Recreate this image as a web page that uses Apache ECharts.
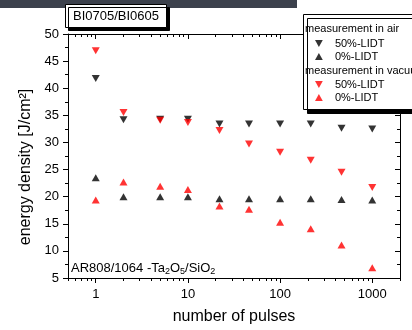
<!DOCTYPE html>
<html>
<head>
<meta charset="utf-8">
<script src="https://cdn.jsdelivr.net/npm/echarts@6/dist/echarts.min.js"></script>
<style>html,body{margin:0;padding:0;background:#fff}#c{width:412px;height:330px}</style>
</head>
<body>
<div id="c"></div>
<script>
// ---- data ----
var pulses = [1, 2, 5, 10, 22, 46, 100, 215, 464, 1000];
var airHigh = [41.8, 34.2, 34.3, 34.3, 33.4, 33.4, 33.4, 33.4, 32.6, 32.5];
var airLow = [23.5, 20.0, 20.0, 20.0, 19.6, 19.6, 19.6, 19.6, 19.5, 19.4];
var vacHigh = [46.9, 35.5, 34.1, 33.7, 32.2, 29.7, 28.2, 26.7, 24.5, 21.7];
var vacLow = [19.4, 22.7, 21.9, 21.3, 18.3, 17.7, 15.3, 14.1, 11.1, 6.9];
var xMajorTicks = [1, 10, 100, 1000];
var xMinorTicks = [0.5, 0.6, 0.7, 0.8, 0.9, 2, 3, 4, 5, 6, 7, 8, 9, 20, 30, 40, 50, 60, 70, 80, 90,
  200, 300, 400, 500, 600, 700, 800, 900, 2000];
var seriesNames = { air50: '50%-LIDT', air0: '0%-LIDT', vac50: '50%-LIDT', vac0: '0%-LIDT' };

function pairs(ys) { return pulses.map(function (p, i) { return [p, ys[i]]; }); }

var FONT = "'Liberation Sans', Arial, sans-serif";
var DOWN = 'path://M0,0L10,0L5,9Z';
var UP = 'path://M5,0L10,9L0,9Z';
var chart = echarts.init(document.getElementById('c'), null, { renderer: 'canvas' });

function xAx(pos, major, showLine, inside) {
  return {
    type: 'log', logBase: 10, min: 0.5, max: 2000, position: pos,
    axisLine: { show: showLine, lineStyle: { color: '#000', width: 1 } },
    axisTick: { show: true, inside: inside, length: major ? 5 : 3,
      customValues: major ? xMajorTicks : xMinorTicks, lineStyle: { color: '#000' } },
    axisLabel: (pos === 'bottom' && major) ? { show: true, customValues: xMajorTicks, color: '#000',
      fontSize: 13, fontFamily: FONT, margin: 10, formatter: function (v) { return String(v); } } : { show: false },
    splitLine: { show: false }, minorTick: { show: false }
  };
}

function legendCfg(names, top) {
  return { data: [{ name: names[0], icon: DOWN }, { name: names[1], icon: UP }],
    orient: 'vertical', left: 315, top: top, itemWidth: 8, itemHeight: 7,
    itemGap: 0, padding: 0, formatter: function (n) { return seriesNames[n]; },
    textStyle: { color: '#000', fontSize: 11, fontFamily: FONT, lineHeight: 13, padding: [0, 0, 0, 7] },
    z: 200, selectedMode: false };
}

chart.setOption({
  animation: false,
  backgroundColor: '#fff',
  grid: { left: 68, right: 12, top: 34, bottom: 51 },
  xAxis: [
    Object.assign(xAx('bottom', true, true, false), {
      name: 'number of pulses', nameLocation: 'middle', nameGap: 31,
      nameTextStyle: { color: '#000', fontSize: 16, fontFamily: FONT } }),
    xAx('bottom', false, false, false),
    xAx('top', true, true, true),
    xAx('top', false, false, true)
  ],
  yAxis: [
    { type: 'value', min: 5, max: 50, interval: 5, position: 'left',
      axisLine: { show: true, lineStyle: { color: '#000' } },
      axisTick: { show: true, length: 5, lineStyle: { color: '#000' } },
      minorTick: { show: true, splitNumber: 2, length: 3, lineStyle: { color: '#000' } },
      axisLabel: { color: '#000', fontSize: 13, fontFamily: FONT, margin: 9 },
      splitLine: { show: false } },
    { type: 'value', min: 5, max: 50, interval: 5, position: 'right',
      axisLine: { show: true, lineStyle: { color: '#000' } },
      axisTick: { show: true, inside: true, length: 5, lineStyle: { color: '#000' } },
      minorTick: { show: true, splitNumber: 2, length: 3, lineStyle: { color: '#000' } },
      axisLabel: { show: false }, splitLine: { show: false } }
  ],
  legend: [ legendCfg(['air50', 'air0'], 37), legendCfg(['vac50', 'vac0'], 78) ],
  series: [
    { name: 'air50', type: 'scatter', data: pairs(airHigh), symbol: 'triangle', symbolRotate: 180,
      symbolSize: [8, 7], itemStyle: { color: '#000' } },
    { name: 'air0', type: 'scatter', data: pairs(airLow), symbol: 'triangle',
      symbolSize: [8, 7], itemStyle: { color: '#000' } },
    { name: 'vac50', type: 'scatter', data: pairs(vacHigh), symbol: 'triangle', symbolRotate: 180,
      symbolSize: [8, 7], itemStyle: { color: '#ff0000' } },
    { name: 'vac0', type: 'scatter', data: pairs(vacLow), symbol: 'triangle',
      symbolSize: [8, 7], itemStyle: { color: '#ff0000' } }
  ],
  graphic: [
    { type: 'rect', z: 150, shape: { x: 0, y: 0, width: 297, height: 8 }, style: { fill: '#3c414c' } },
    { type: 'rect', z: 150, shape: { x: 65.5, y: 4.5, width: 101, height: 23 },
      style: { fill: '#fff', stroke: '#000', lineWidth: 1, shadowColor: '#000', shadowOffsetX: 3, shadowOffsetY: 3, shadowBlur: 0 } },
    { type: 'text', z: 160, style: { x: 116, y: 16.5, text: 'BI0705/BI0605', fill: '#000', fontSize: 13,
      fontFamily: FONT, align: 'center', verticalAlign: 'middle' } },
    { type: 'rect', z: 150, shape: { x: 303.5, y: 14.5, width: 120, height: 95 },
      style: { fill: '#fff', stroke: '#000', lineWidth: 1, shadowColor: '#000', shadowOffsetX: 4, shadowOffsetY: 4, shadowBlur: 0 } },
    { type: 'text', z: 160, style: { x: 305, y: 29, text: 'measurement in air', fill: '#000', fontSize: 11,
      fontFamily: FONT, verticalAlign: 'middle' } },
    { type: 'text', z: 160, style: { x: 305, y: 71, text: 'measurement in vacuum', fill: '#000', fontSize: 11,
      fontFamily: FONT, verticalAlign: 'middle' } },
    { type: 'text', z: 160, style: { x: 71, y: 268, text: '{n|AR808/1064 -Ta}{s|2}{n|O}{s|5}{n|/SiO}{s|2}',
      fill: '#000', fontFamily: FONT, verticalAlign: 'middle',
      rich: { n: { fontSize: 13, fontFamily: FONT, fill: '#000' },
              s: { fontSize: 9, fontFamily: FONT, fill: '#000', padding: [8, 0, 0, 0] } } } },
    { type: 'text', z: 160, rotation: Math.PI / 2, x: 26, y: 167,
      style: { x: 0, y: 0, text: 'energy density [J/cm\u00b2]', fill: '#000', fontSize: 16,
      fontFamily: FONT, align: 'center', verticalAlign: 'middle' } }
  ]
});
</script>
</body>
</html>
